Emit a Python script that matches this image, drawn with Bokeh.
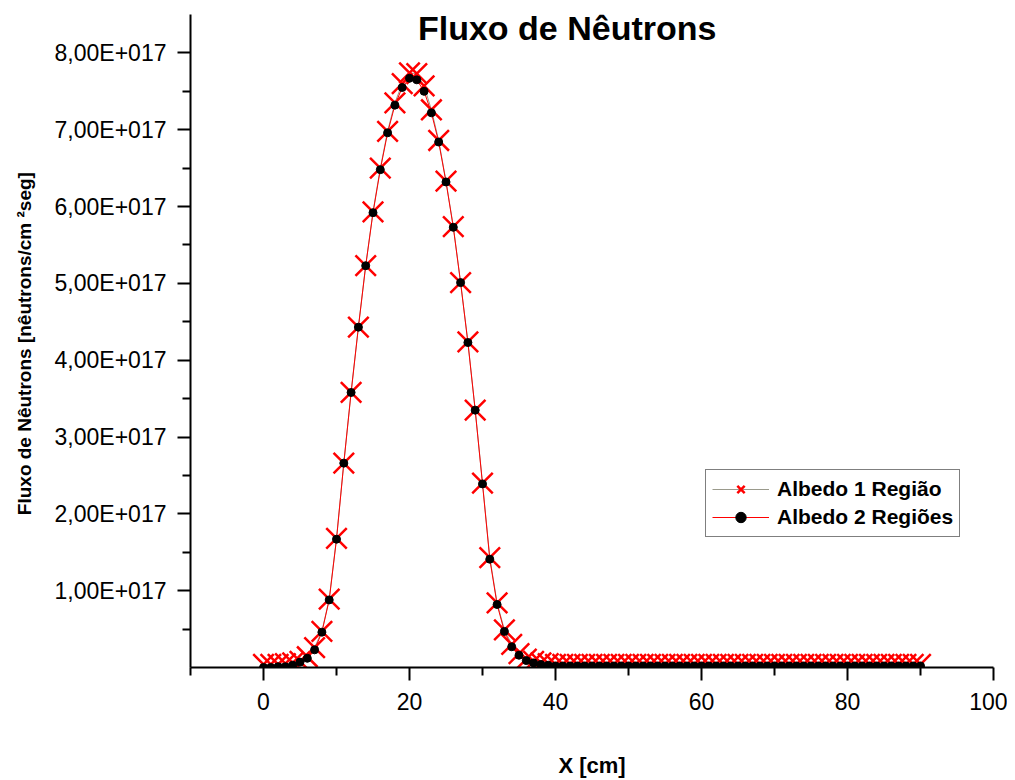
from bokeh.plotting import figure
from bokeh.models import Range1d, FixedTicker, Label, Legend, LegendItem
from bokeh.embed import file_html
from bokeh.resources import INLINE

# ---- data (flux values in units of 1E+017 neutrons/cm^2 s) ----
x_cm = list(range(0, 91))

albedo_1_regiao = [
    0.04, 0.04, 0.04, 0.05, 0.06, 0.08, 0.14, 0.26, 0.47, 0.89,
    1.68, 2.66, 3.58, 4.43, 5.23, 5.93, 6.50, 6.98, 7.35, 7.60,
    7.74, 7.73, 7.57, 7.26, 6.86, 6.33, 5.74, 5.01, 4.24, 3.35,
    2.40, 1.43, 0.84, 0.49, 0.30, 0.18, 0.11, 0.08, 0.06, 0.05,
    0.04, 0.04, 0.04, 0.04, 0.04, 0.04, 0.04, 0.04, 0.04, 0.04,
    0.04, 0.04, 0.04, 0.04, 0.04, 0.04, 0.04, 0.04, 0.04, 0.04,
    0.04, 0.04, 0.04, 0.04, 0.04, 0.04, 0.04, 0.04, 0.04, 0.04,
    0.04, 0.04, 0.04, 0.04, 0.04, 0.04, 0.04, 0.04, 0.04, 0.04,
    0.04, 0.04, 0.04, 0.04, 0.04, 0.04, 0.04, 0.04, 0.04, 0.04,
    0.04,
]

albedo_2_regioes = [
    0.00, 0.00, 0.01, 0.01, 0.03, 0.07, 0.12, 0.23, 0.46, 0.88,
    1.67, 2.66, 3.58, 4.43, 5.23, 5.92, 6.48, 6.96, 7.32, 7.55,
    7.67, 7.65, 7.50, 7.22, 6.84, 6.32, 5.73, 5.01, 4.23, 3.35,
    2.39, 1.41, 0.82, 0.47, 0.27, 0.16, 0.09, 0.06, 0.04, 0.03,
    0.02, 0.02, 0.02, 0.02, 0.02, 0.02, 0.02, 0.02, 0.02, 0.02,
    0.02, 0.02, 0.02, 0.02, 0.02, 0.02, 0.02, 0.02, 0.02, 0.02,
    0.02, 0.02, 0.02, 0.02, 0.02, 0.02, 0.02, 0.02, 0.02, 0.02,
    0.02, 0.02, 0.02, 0.02, 0.02, 0.02, 0.02, 0.02, 0.02, 0.02,
    0.02, 0.02, 0.02, 0.02, 0.02, 0.02, 0.02, 0.02, 0.02, 0.02,
    0.02,
]

series_names = ["Albedo 1 Região", "Albedo 2 Regiões"]

y_tick_values = [1, 2, 3, 4, 5, 6, 7, 8]
y_tick_labels = ["1,00E+017", "2,00E+017", "3,00E+017", "4,00E+017",
                 "5,00E+017", "6,00E+017", "7,00E+017", "8,00E+017"]
y_minor_ticks = [0.5, 1.5, 2.5, 3.5, 4.5, 5.5, 6.5, 7.5]

x_tick_values = [0, 20, 40, 60, 80, 100]
x_tick_labels = ["0", "20", "40", "60", "80", "100"]
x_minor_ticks = [-10, 10, 30, 50, 70, 90]

title_text = "Fluxo de Nêutrons"
x_label = "X [cm]"
y_label = "Fluxo de Nêutrons [nêutrons/cm  \u00b2seg]"

FONT = "Liberation Sans"

p = figure(width=1007, height=780, output_backend="svg", toolbar_location=None,
           x_range=Range1d(-10, 100), y_range=Range1d(0, 8.5),
           min_border_left=190, min_border_right=14, min_border_top=14,
           min_border_bottom=112, title=None)
p.outline_line_color = None
p.xgrid.visible = False
p.ygrid.visible = False
p.background_fill_color = "white"
p.border_fill_color = "white"

# axes
for ax in (p.xaxis[0], p.yaxis[0]):
    ax.axis_line_width = 2
    ax.axis_line_color = "black"
    ax.major_tick_line_width = 2
    ax.minor_tick_line_width = 2
    ax.major_tick_out = 13
    ax.major_tick_in = 0
    ax.minor_tick_out = 8
    ax.minor_tick_in = 0
    ax.major_label_text_font = FONT
    ax.major_label_text_font_size = "23px"
    ax.major_label_text_color = "black"
    ax.axis_label_text_font_style = "bold"
    ax.axis_label_text_color = "black"

p.xaxis[0].ticker = FixedTicker(ticks=x_tick_values, minor_ticks=x_minor_ticks)
p.xaxis[0].major_label_overrides = {v: s for v, s in zip(x_tick_values, x_tick_labels)}
p.xaxis[0].major_label_standoff = 12
p.xaxis[0].axis_label = x_label
p.xaxis[0].axis_label_text_font = FONT
p.xaxis[0].axis_label_text_font_size = "22px"
p.xaxis[0].axis_label_standoff = 40

p.yaxis[0].ticker = FixedTicker(ticks=y_tick_values, minor_ticks=y_minor_ticks)
p.yaxis[0].major_label_overrides = {v: s for v, s in zip(y_tick_values, y_tick_labels)}
p.yaxis[0].major_label_standoff = 11
p.yaxis[0].axis_label = y_label
p.yaxis[0].axis_label_text_font = FONT
p.yaxis[0].axis_label_text_font_size = "19px"
p.yaxis[0].axis_label_standoff = 17

# series 1: Albedo 1 Região (gray line, red x markers)
l1 = p.line(x_cm, albedo_1_regiao, line_color="#9a9a8c", line_width=1)
s1 = p.scatter(x_cm, albedo_1_regiao, marker="x", size=29, line_color="red",
               line_width=2.5)
# series 2: Albedo 2 Regiões (red line, black dots)
l2 = p.line(x_cm, albedo_2_regioes, line_color="red", line_width=1)
s2 = p.scatter(x_cm, albedo_2_regioes, marker="circle", size=8,
               fill_color="black", line_color="black")

legend = Legend(items=[
    LegendItem(label=series_names[0], renderers=[l1, s1]),
    LegendItem(label=series_names[1], renderers=[l2, s2]),
], location=(515, 130))
legend.label_text_font = FONT
legend.label_text_font_style = "bold"
legend.label_text_font_size = "21px"
legend.label_text_color = "black"
legend.border_line_color = "black"
legend.border_line_width = 1
legend.background_fill_color = "white"
legend.background_fill_alpha = 1
legend.glyph_width = 57
legend.glyph_height = 26
legend.label_height = 26
legend.label_standoff = 8
legend.spacing = 2
legend.padding = 6
legend.margin = 0
p.add_layout(legend, "center")

title = Label(x=41.6, y=8.33, text=title_text, text_align="center",
              text_baseline="middle", text_font=FONT, text_font_style="bold",
              text_font_size="34px", text_color="black")
p.add_layout(title)

open("out.html", "w").write(file_html(p, INLINE))
